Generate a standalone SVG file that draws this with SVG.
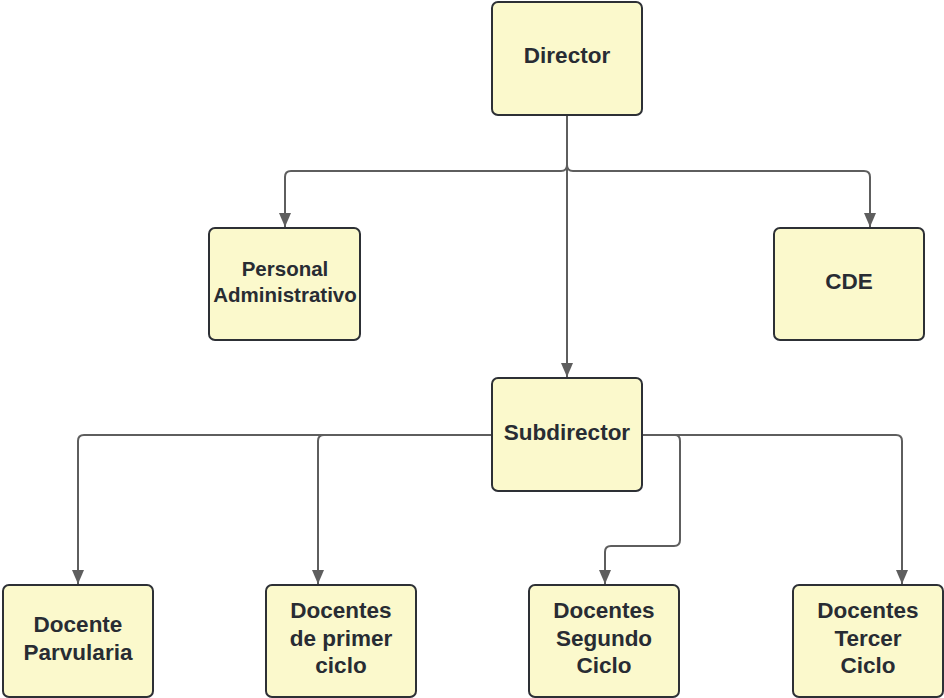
<svg xmlns="http://www.w3.org/2000/svg" width="944" height="698" viewBox="0 0 944 698">
<defs>
<style>
.box{fill:#fbf9cc;stroke:#2d3035;stroke-width:2}
.t{font-family:"Liberation Sans",Arial,sans-serif;font-weight:bold;font-size:22.5px;fill:#282c33;text-anchor:middle}
.s{font-size:20.5px}
.c{fill:none;stroke:#5e5e5e;stroke-width:2;marker-end:url(#ah)}
</style>
<marker id="ah" markerWidth="14" markerHeight="12" viewBox="0 0 14 12" refX="14" refY="6" orient="auto" markerUnits="userSpaceOnUse">
<path d="M0,0 L14,6 L0,12 Z" fill="#5e5e5e"/>
</marker>
</defs>
<rect width="944" height="698" fill="#ffffff"/>
<g id="connectors">
<path class="c" d="M567,116 V165 Q567,171 561,171 H291 Q285,171 285,177 V227"/>
<path class="c" d="M567,116 V165 Q567,171 573,171 H864 Q870,171 870,177 V227"/>
<path class="c" d="M567,116 V377"/>
<path class="c" d="M492,435 H84 Q78,435 78,441 V584"/>
<path class="c" d="M492,435 H324 Q318,435 318,441 V584"/>
<path class="c" d="M642,435 H675 Q680,435 680,441 V540 Q680,546 674,546 H611 Q605,546 605,552 V584"/>
<path class="c" d="M642,435 H896 Q902,435 902,441 V584"/>
</g>
<g id="director">
<rect class="box" x="492" y="2" width="150" height="113" rx="6"/>
<text class="t" x="567" y="63">Director</text>
</g>
<g id="personal">
<rect class="box" x="209" y="228" width="151" height="112" rx="6"/>
<text class="t s" x="285" y="276">Personal</text>
<text class="t s" x="285" y="302">Administrativo</text>
</g>
<g id="cde">
<rect class="box" x="774" y="228" width="150" height="112" rx="6"/>
<text class="t" x="849" y="289">CDE</text>
</g>
<g id="subdirector">
<rect class="box" x="492" y="378" width="150" height="113" rx="6"/>
<text class="t" x="567" y="440">Subdirector</text>
</g>
<g id="parvularia">
<rect class="box" x="3" y="585" width="150" height="112" rx="6"/>
<text class="t" x="78" y="632">Docente</text>
<text class="t" x="78" y="660">Parvularia</text>
</g>
<g id="primer">
<rect class="box" x="266" y="585" width="150" height="112" rx="6"/>
<text class="t" x="341" y="618">Docentes</text>
<text class="t" x="341" y="646">de primer</text>
<text class="t" x="341" y="673">ciclo</text>
</g>
<g id="segundo">
<rect class="box" x="529" y="585" width="150" height="112" rx="6"/>
<text class="t" x="604" y="618">Docentes</text>
<text class="t" x="604" y="646">Segundo</text>
<text class="t" x="604" y="673">Ciclo</text>
</g>
<g id="tercer">
<rect class="box" x="793" y="585" width="150" height="112" rx="6"/>
<text class="t" x="868" y="618">Docentes</text>
<text class="t" x="868" y="646">Tercer</text>
<text class="t" x="868" y="673">Ciclo</text>
</g>
</svg>
